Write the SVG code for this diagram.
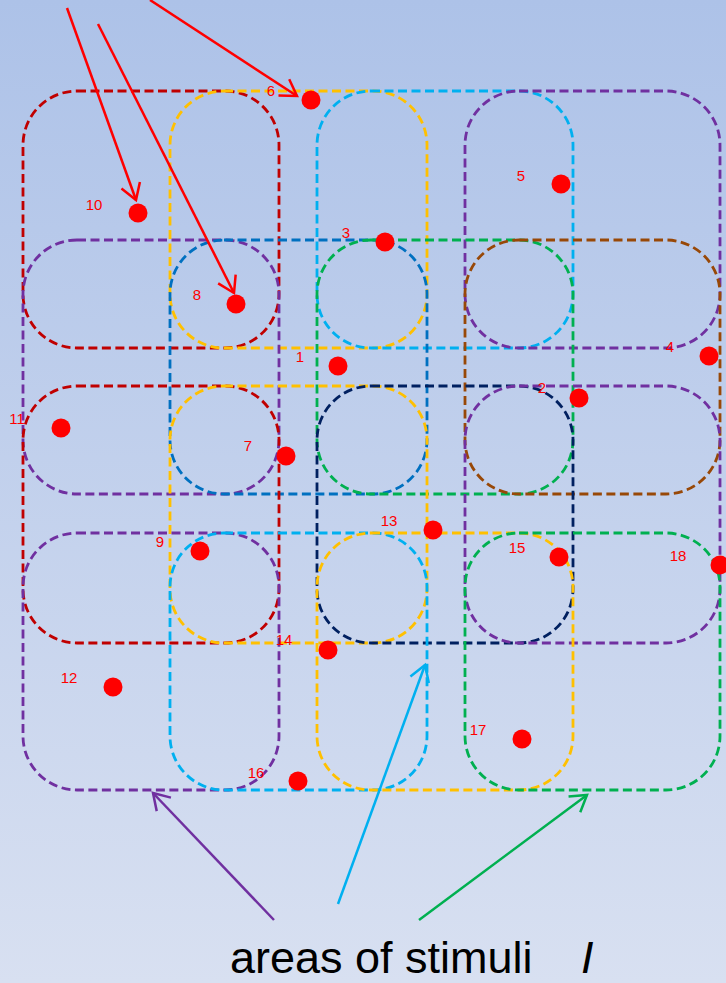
<svg xmlns="http://www.w3.org/2000/svg" width="726" height="983" viewBox="0 0 726 983">
<defs>
<linearGradient id="bg" x1="0" y1="0" x2="0" y2="1">
<stop offset="0" stop-color="#ADC2E8"/>
<stop offset="1" stop-color="#D8E0F1"/>
</linearGradient>
<marker id="mRed" markerUnits="userSpaceOnUse" markerWidth="40" markerHeight="40" refX="0" refY="0" orient="auto" overflow="visible"><path d="M-15.7,-9.8 L0,0 L-15.7,9.8" fill="none" stroke="#FF0000" stroke-width="2.5"/></marker>
<marker id="mPur" markerUnits="userSpaceOnUse" markerWidth="40" markerHeight="40" refX="0" refY="0" orient="auto" overflow="visible"><path d="M-15.7,-9.8 L0,0 L-15.7,9.8" fill="none" stroke="#7030A0" stroke-width="2.5"/></marker>
<marker id="mCya" markerUnits="userSpaceOnUse" markerWidth="40" markerHeight="40" refX="0" refY="0" orient="auto" overflow="visible"><path d="M-15.7,-9.8 L0,0 L-15.7,9.8" fill="none" stroke="#00B0F0" stroke-width="2.5"/></marker>
<marker id="mGrn" markerUnits="userSpaceOnUse" markerWidth="40" markerHeight="40" refX="0" refY="0" orient="auto" overflow="visible"><path d="M-15.7,-9.8 L0,0 L-15.7,9.8" fill="none" stroke="#00B050" stroke-width="2.5"/></marker>
</defs>
<style>
.area{fill:none;stroke-width:2.8;stroke-dasharray:9 4.5}
.dot{fill:#FF0000}
.lbl{font-family:"Liberation Sans",Arial,sans-serif;font-size:15px;fill:#FF0000;text-anchor:middle}
.arr{fill:none;stroke-width:2.5}
</style>
<rect x="0" y="0" width="726" height="983" fill="url(#bg)"/>
<g id="areas">
<g id="area-r0c0"><rect class="area" x="23" y="91" width="256" height="257" rx="54" stroke="#C00000"/></g>
<g id="area-r0c1"><rect class="area" x="170" y="91" width="257" height="257" rx="54" stroke="#FFC000"/></g>
<g id="area-r0c2"><rect class="area" x="317" y="91" width="256" height="257" rx="54" stroke="#00B0F0"/></g>
<g id="area-r0c3"><rect class="area" x="465" y="91" width="255" height="257" rx="54" stroke="#7030A0"/></g>
<g id="area-r1c0"><rect class="area" x="23" y="240" width="256" height="254" rx="54" stroke="#7030A0"/></g>
<g id="area-r1c1"><rect class="area" x="170" y="240" width="257" height="254" rx="54" stroke="#0070C0"/></g>
<g id="area-r1c2"><rect class="area" x="317" y="240" width="256" height="254" rx="54" stroke="#00B050"/></g>
<g id="area-r1c3"><rect class="area" x="465" y="240" width="255" height="254" rx="54" stroke="#984807"/></g>
<g id="area-r2c0"><rect class="area" x="23" y="386" width="256" height="257" rx="54" stroke="#C00000"/></g>
<g id="area-r2c1"><rect class="area" x="170" y="386" width="257" height="257" rx="54" stroke="#FFC000"/></g>
<g id="area-r2c2"><rect class="area" x="317" y="386" width="256" height="257" rx="54" stroke="#002060"/></g>
<g id="area-r2c3"><rect class="area" x="465" y="386" width="255" height="257" rx="54" stroke="#7030A0"/></g>
<g id="area-r3c0"><rect class="area" x="23" y="533" width="256" height="257" rx="54" stroke="#7030A0"/></g>
<g id="area-r3c1"><rect class="area" x="170" y="533" width="257" height="257" rx="54" stroke="#00B0F0"/></g>
<g id="area-r3c2"><rect class="area" x="317" y="533" width="256" height="257" rx="54" stroke="#FFC000"/></g>
<g id="area-r3c3"><rect class="area" x="465" y="533" width="255" height="257" rx="54" stroke="#00B050"/></g>
</g>
<g id="connectors">
<line class="arr" x1="150" y1="0" x2="297" y2="96" stroke="#FF0000" marker-end="url(#mRed)"/>
<line class="arr" x1="67" y1="8" x2="136" y2="200" stroke="#FF0000" marker-end="url(#mRed)"/>
<line class="arr" x1="98" y1="24" x2="234" y2="293" stroke="#FF0000" marker-end="url(#mRed)"/>
<line class="arr" x1="274" y1="920" x2="153" y2="793" stroke="#7030A0" marker-end="url(#mPur)"/>
<line class="arr" x1="338" y1="904" x2="425" y2="665" stroke="#00B0F0" marker-end="url(#mCya)"/>
<line class="arr" x1="419" y1="920" x2="587" y2="795" stroke="#00B050" marker-end="url(#mGrn)"/>
</g>
<g id="points">
<g id="p1"><circle class="dot" cx="338" cy="366" r="9.5"/><text class="lbl" x="300" y="362">1</text></g>
<g id="p2"><circle class="dot" cx="579" cy="398" r="9.5"/><text class="lbl" x="542" y="393">2</text></g>
<g id="p3"><circle class="dot" cx="385" cy="242" r="9.5"/><text class="lbl" x="346" y="238">3</text></g>
<g id="p4"><circle class="dot" cx="709" cy="356" r="9.5"/><text class="lbl" x="670" y="352">4</text></g>
<g id="p5"><circle class="dot" cx="561" cy="184" r="9.5"/><text class="lbl" x="521" y="181">5</text></g>
<g id="p6"><circle class="dot" cx="311" cy="100" r="9.5"/><text class="lbl" x="271" y="96">6</text></g>
<g id="p7"><circle class="dot" cx="286" cy="456" r="9.5"/><text class="lbl" x="248" y="451">7</text></g>
<g id="p8"><circle class="dot" cx="236" cy="304" r="9.5"/><text class="lbl" x="197" y="300">8</text></g>
<g id="p9"><circle class="dot" cx="200" cy="551" r="9.5"/><text class="lbl" x="160" y="547">9</text></g>
<g id="p10"><circle class="dot" cx="138" cy="213" r="9.5"/><text class="lbl" x="94" y="210">10</text></g>
<g id="p11"><circle class="dot" cx="61" cy="428" r="9.5"/><text class="lbl" x="17" y="424">11</text></g>
<g id="p12"><circle class="dot" cx="113" cy="687" r="9.5"/><text class="lbl" x="69" y="683">12</text></g>
<g id="p13"><circle class="dot" cx="433" cy="530" r="9.5"/><text class="lbl" x="389" y="526">13</text></g>
<g id="p14"><circle class="dot" cx="328" cy="650" r="9.5"/><text class="lbl" x="284" y="645">14</text></g>
<g id="p15"><circle class="dot" cx="559" cy="557" r="9.5"/><text class="lbl" x="517" y="553">15</text></g>
<g id="p16"><circle class="dot" cx="298" cy="781" r="9.5"/><text class="lbl" x="256" y="778">16</text></g>
<g id="p17"><circle class="dot" cx="522" cy="739" r="9.5"/><text class="lbl" x="478" y="735">17</text></g>
<g id="p18"><circle class="dot" cx="720" cy="565" r="9.5"/><text class="lbl" x="678" y="561">18</text></g>
</g>
<g id="caption">
<text x="230" y="973" font-family="Liberation Sans, Arial, sans-serif" font-size="45" fill="#000000">areas of stimuli</text>
<text x="581" y="973" font-family="Liberation Sans, Arial, sans-serif" font-size="45" font-style="italic" fill="#000000">I</text>
</g>
</svg>
